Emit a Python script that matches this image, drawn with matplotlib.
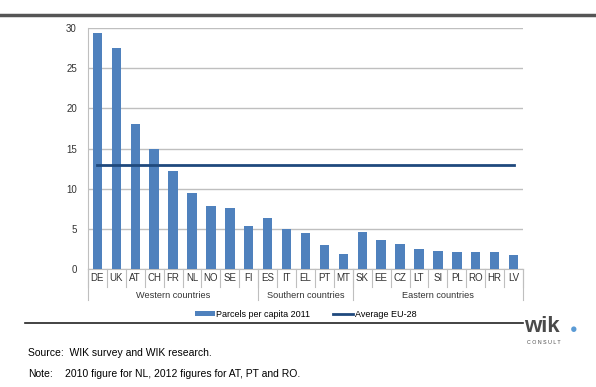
import matplotlib.pyplot as plt
import numpy as np

plt.rcParams['font.family'] = ['Liberation Sans', 'DejaVu Sans']

countries = ['DE', 'UK', 'AT', 'CH', 'FR', 'NL', 'NO', 'SE', 'FI',
             'ES', 'IT', 'EL', 'PT', 'MT',
             'SK', 'EE', 'CZ', 'LT', 'SI', 'PL', 'RO', 'HR', 'LV']
parcels = [29.4, 27.5, 18.0, 15.0, 12.25, 9.4, 7.8, 7.55, 5.3,
           6.4, 5.0, 4.45, 3.0, 1.9,
           4.65, 3.6, 3.05, 2.45, 2.25, 2.1, 2.1, 2.1, 1.8]
avg_eu28 = 13.0
groups = ['Western countries', 'Southern countries', 'Eastern countries']
group_sizes = [9, 5, 9]

fig = plt.figure(figsize=(5.96, 3.87), dpi=100)
ax = fig.add_axes([88/596, 1-269/387, (523-88)/596, (269-28)/387])

x = np.arange(len(countries))
bars = ax.bar(x, parcels, width=0.5, color='#4F81BD', zorder=3, label='Parcels per capita 2011')
line, = ax.plot([x[0], x[-1]], [avg_eu28, avg_eu28], color='#1F497D', lw=2, zorder=4, label='Average EU-28')

ax.set_xlim(-0.5, len(countries) - 0.5)
ax.set_ylim(0, 30)
ax.set_yticks(range(0, 31, 5))
ax.yaxis.grid(True, color='#BFBFBF', lw=1, zorder=0)
for s in ['top', 'right', 'bottom']:
    ax.spines[s].set_visible(False)
ax.spines['left'].set_color('#BFBFBF')
ax.tick_params(axis='y', length=0, labelsize=7, pad=8, colors='#333333')
ax.set_xticks([])

# category axis: tick labels, dividers and group labels
trans = ax.get_xaxis_transform()
for i, c in enumerate(countries):
    ax.text(i, -0.036, c, transform=trans, ha='center', va='center', fontsize=7, color='#333333')
for i in range(len(countries) + 1):
    ax.plot([i - 0.5, i - 0.5], [0, -0.075], transform=trans, color='#BFBFBF', lw=0.8, clip_on=False)
ax.plot([-0.5, len(countries) - 0.5], [0, 0], transform=trans, color='#BFBFBF', lw=0.8, clip_on=False)
start = 0
bounds = [0]
for g, n in zip(groups, group_sizes):
    ax.text(start + n / 2 - 0.5, -0.112, g, transform=trans, ha='center', va='center',
            fontsize=6.6, color='#333333')
    start += n
    bounds.append(start)
for b in bounds:
    ax.plot([b - 0.5, b - 0.5], [0, -0.13], transform=trans, color='#BFBFBF', lw=0.8, clip_on=False)

ax.legend([bars, line], ['Parcels per capita 2011', 'Average EU-28'],
          loc='upper center', bbox_to_anchor=(0.5, -0.135), ncol=2, frameon=False,
          fontsize=6.5, handlelength=2.2, handleheight=0.5, columnspacing=2.5, handletextpad=0.2)

# rules, logo and notes
fig.add_artist(plt.Line2D([0, 1], [1-15/387, 1-15/387], color='#555555', lw=2.5))
fig.add_artist(plt.Line2D([25/596, 523/596], [1-323/387, 1-323/387], color='#222222', lw=1.2))
fig.text(524/596, 1-326/387, 'wik', fontsize=16, fontweight='bold', color='#4A4A4A', va='center')
fig.text(570/596, 1-330/387, '\u25CF', fontsize=9, color='#5B9BD5', va='center')
fig.text(527/596, 1-342/387, 'C O N S U L T', fontsize=3.8, color='#4A4A4A', va='center')
fig.text(28/596, 1-353/387, 'Source:  WIK survey and WIK research.', fontsize=7.5, va='center')
fig.text(28/596, 1-374/387, 'Note:', fontsize=7.5, va='center')
fig.text(65/596, 1-374/387, '2010 figure for NL, 2012 figures for AT, PT and RO.', fontsize=7.5, va='center')

fig.savefig('out.png', dpi=100)
